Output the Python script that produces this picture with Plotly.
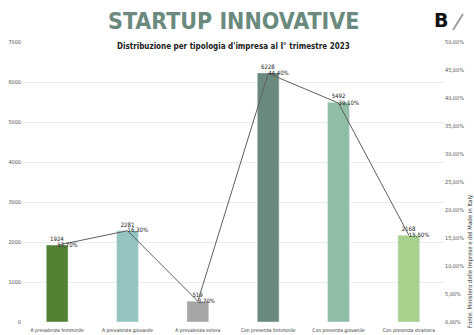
import plotly.graph_objects as go

categories = ["A prevalenza femminile", "A prevalenza giovanile", "A prevalenza estera",
              "Con presenza femminile", "Con presenza giovanile", "Con presenza straniera"]
counts = [1924, 2281, 519, 6228, 5492, 2168]
shares = [0.137, 0.163, 0.037, 0.444, 0.391, 0.155]
share_labels = ["13,70%", "16,30%", "3,70%", "44,40%", "39,10%", "15,50%"]
bar_colors = ["#548235", "#93c4c1", "#a6a6a6", "#6b8a7e", "#8fbda6", "#a9d18e"]

FONT = "DejaVu Sans Condensed, Roboto, sans-serif"

fig = go.Figure()
fig.add_trace(go.Bar(
    x=categories, y=counts, marker_color=bar_colors,
    text=[str(c) for c in counts], textposition="outside",
    textfont=dict(family=FONT, size=6, color="#222"),
    cliponaxis=False, showlegend=False))
fig.add_trace(go.Scatter(
    x=categories, y=shares, yaxis="y2", mode="lines+text",
    line=dict(color="#5f5f5f", width=1),
    text=share_labels, textposition="middle right",
    textfont=dict(family=FONT, size=6, color="#222"),
    cliponaxis=False, showlegend=False))

fig.update_layout(
    width=474, height=335,
    margin=dict(l=22, r=30, t=42, b=13),
    paper_bgcolor="white", plot_bgcolor="white",
    separators=",.",
    bargap=0.69,
    font=dict(family=FONT, size=5, color="#444"),
    xaxis=dict(showgrid=False, showline=False, ticks="", automargin=False,
               ticklabelstandoff=4, tickfont=dict(size=5, color="#333")),
    yaxis=dict(range=[0, 7000], dtick=1000, showgrid=True, gridcolor="#ececec",
               zeroline=False, automargin=False, tickfont=dict(size=5.5, color="#555")),
    yaxis2=dict(range=[0, 0.5], dtick=0.05, tickformat=".2%", overlaying="y",
                side="right", showgrid=False, zeroline=False, automargin=False,
                tickfont=dict(size=5.5, color="#555")),
    annotations=[
        dict(text="<b>STARTUP INNOVATIVE</b>", x=0.5, y=1.0, xref="paper", yref="paper",
             xanchor="center", yanchor="middle", yshift=21,
             showarrow=False, font=dict(family=FONT, size=23, color="#6b8a7e")),
        dict(text="<b>Distribuzione per tipologia d'impresa al I° trimestre 2023</b>",
             x=0.5, y=1.0, xref="paper", yref="paper", xanchor="center", yanchor="middle",
             yshift=-4, showarrow=False, font=dict(family=FONT, size=8, color="#222")),
        dict(text="<b>B</b>", x=1.0, y=1.0, xref="paper", yref="paper",
             xanchor="center", yanchor="middle", xshift=-3, yshift=22,
             showarrow=False, font=dict(family="DejaVu Sans", size=19, color="#111")),
        dict(text="Fonte: Ministero delle Imprese e del Made in Italy", x=1.0, y=0,
             xref="paper", yref="paper", xanchor="center", yanchor="bottom",
             xshift=26, yshift=-8, textangle=-90, showarrow=False,
             font=dict(family=FONT, size=6, color="#333")),
    ],
    shapes=[
        dict(type="line", xref="paper", yref="paper", x0=1.0, x1=1.0, y0=1.0, y1=1.0,
             xsizemode="pixel", ysizemode="pixel", xanchor=1.0, yanchor=1.0,
             line=dict(color="#9a9a9a", width=2)),
    ],
)
# small pencil mark of the logo
fig.layout.shapes = []
fig.add_shape(type="line", xref="paper", yref="paper", xsizemode="pixel", ysizemode="pixel",
              xanchor=1.0, yanchor=1.0, x0=9, y0=12, x1=19, y1=28,
              line=dict(color="#a0a0a0", width=2))
fig.write_html("out.html")
